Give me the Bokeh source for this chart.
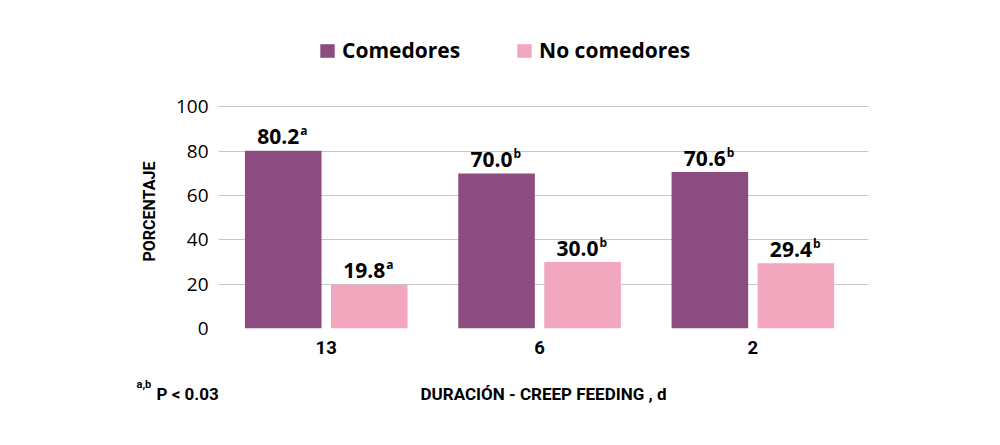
from bokeh.plotting import figure
from bokeh.models import (Range1d, FixedTicker, Legend, LegendItem, Label,
                          Title, ColumnDataSource)
from bokeh.core.properties import value
from bokeh.embed import file_html
from bokeh.resources import INLINE

# ---- data ----
durations = ["13", "6", "2"]
comedores = [80.2, 70.0, 70.6]
no_comedores = [19.8, 30.0, 29.4]
sig_comedores = ["a", "b", "b"]
sig_no_comedores = ["a", "b", "b"]
y_ticks = [0, 20, 40, 60, 80, 100]
series_names = ["Comedores", "No comedores"]
colors = ["#8B4C80", "#F2A7BF"]

# ---- layout helpers ----
centers = [i + 0.5 for i in range(len(durations))]
offset = 0.2016
bar_w = 0.359

NUM_FONT = "Open Sans"
COND_FONT = "Roboto"

src_c = ColumnDataSource(dict(
    x=[c - offset for c in centers], top=comedores,
    lab=[f"{v:.1f}" for v in comedores], sup=sig_comedores))
src_n = ColumnDataSource(dict(
    x=[c + offset for c in centers], top=no_comedores,
    lab=[f"{v:.1f}" for v in no_comedores], sup=sig_no_comedores))

# frame extends above the 100 line to make room for the legend
p = figure(width=990, height=440, output_backend="svg", toolbar_location=None,
           x_range=Range1d(-0.005, 3.042), y_range=Range1d(0, 134.5),
           min_border_left=218, min_border_right=122,
           min_border_top=30, min_border_bottom=112)
p.outline_line_color = None
p.background_fill_color = "white"
p.border_fill_color = "white"

r_c = p.vbar(x="x", top="top", width=bar_w, bottom=0, source=src_c,
             fill_color=colors[0], line_color=None)
r_n = p.vbar(x="x", top="top", width=bar_w, bottom=0, source=src_n,
             fill_color=colors[1], line_color=None)

for src in (src_c, src_n):
    p.text(x="x", y="top", text="lab", source=src, text_align="right",
           text_baseline="alphabetic", x_offset=16, y_offset=-14,
           text_font=value(NUM_FONT), text_font_style="bold",
           text_font_size="21px", text_color="black")
    p.text(x="x", y="top", text="sup", source=src, text_align="left",
           text_baseline="alphabetic", x_offset=17, y_offset=-20,
           text_font=value(NUM_FONT), text_font_style="bold",
           text_font_size="12px", text_color="black")

# grid
p.xgrid.grid_line_color = None
p.ygrid.ticker = FixedTicker(ticks=y_ticks)
p.ygrid.grid_line_color = "#c8c8c8"
p.ygrid.grid_line_width = 1

# y axis
p.yaxis.ticker = FixedTicker(ticks=y_ticks)
p.yaxis.axis_line_color = None
p.yaxis.major_tick_line_color = None
p.yaxis.minor_tick_line_color = None
p.yaxis.major_tick_out = 0
p.yaxis.major_label_standoff = 10
p.yaxis.major_label_text_font = NUM_FONT
p.yaxis.major_label_text_font_size = "19px"
p.yaxis.major_label_text_color = "black"

# y axis title (side title, placed along the 0-100 part of the frame)
p.add_layout(Title(text="PORCENTAJE", align="left", offset=67,
                   standoff=28, text_font=COND_FONT, text_font_style="bold",
                   text_font_size="16px", text_color="black"), "left")

# x axis
p.xaxis.ticker = FixedTicker(ticks=centers)
p.xaxis.major_label_overrides = {c: d for c, d in zip(centers, durations)}
p.xaxis.axis_line_color = None
p.xaxis.major_tick_line_color = None
p.xaxis.minor_tick_line_color = None
p.xaxis.major_tick_out = 0
p.xaxis.major_label_standoff = 12
p.xaxis.major_label_text_font = COND_FONT
p.xaxis.major_label_text_font_style = "bold"
p.xaxis.major_label_text_font_size = "18.5px"
p.xaxis.major_label_text_color = "black"
p.xaxis.axis_label = "DURACIÓN - CREEP FEEDING , d"
p.xaxis.axis_label_text_font = COND_FONT
p.xaxis.axis_label_text_font_style = "bold"
p.xaxis.axis_label_text_font_size = "17px"
p.xaxis.axis_label_text_color = "black"
p.xaxis.axis_label_standoff = 27

# legend (inside the extended frame, above the 100 line)
legend = Legend(items=[LegendItem(label=series_names[0], renderers=[r_c]),
                       LegendItem(label=series_names[1], renderers=[r_n])],
                orientation="horizontal", location=(100, 264),
                glyph_width=18, glyph_height=17, label_standoff=6, spacing=55,
                padding=0, margin=0, border_line_color=None,
                background_fill_alpha=0,
                label_text_font=NUM_FONT, label_text_font_style="bold",
                label_text_font_size="21px", label_text_color="black")
p.add_layout(legend)

# footnote (right-side panels start at the frame's right edge)
p.add_layout(Label(x=-732, y=-56, x_units="screen", y_units="screen",
                   text="a,b", text_font=COND_FONT, text_font_style="bold",
                   text_font_size="11px", text_baseline="alphabetic",
                   text_color="black"), "right")
p.add_layout(Label(x=-727, y=-65, x_units="screen", y_units="screen",
                   text="P < 0.03", text_font=COND_FONT, text_font_style="bold",
                   text_font_size="17px", text_baseline="alphabetic",
                   text_color="black"), "right")

open("out.html", "w").write(file_html(p, INLINE))
